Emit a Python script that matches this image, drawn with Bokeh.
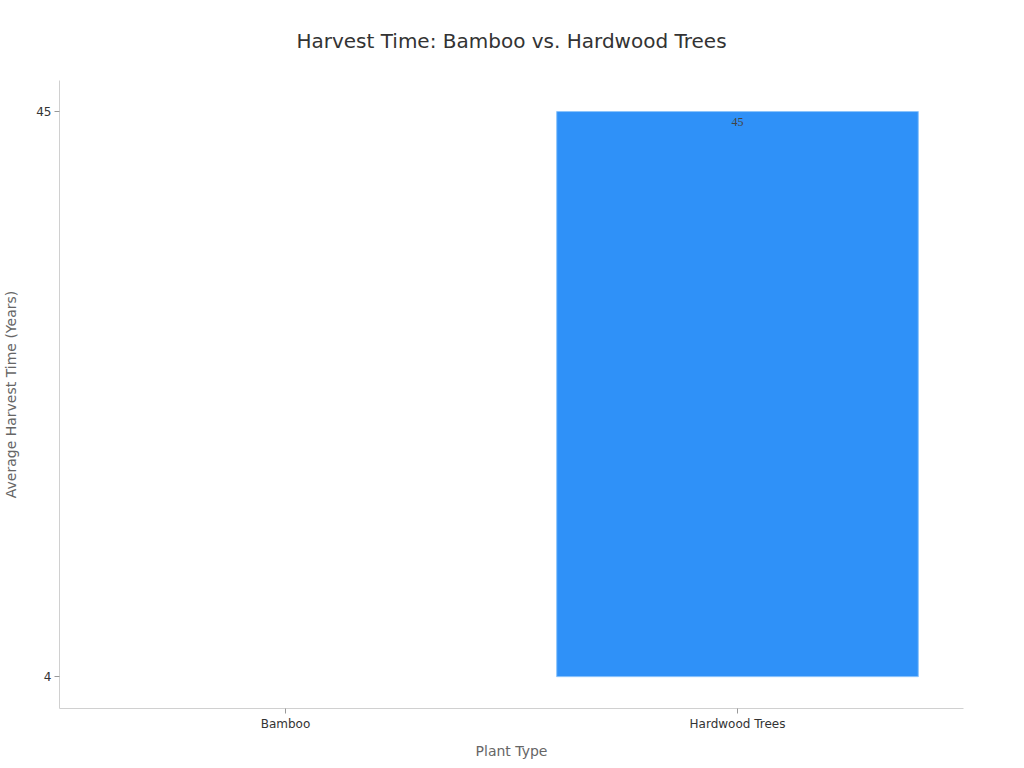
from bokeh.plotting import figure
from bokeh.models import ColumnDataSource, FixedTicker, Range1d, LabelSet, BasicTickFormatter
from bokeh.embed import file_html
from bokeh.resources import INLINE

plantas = ["Bamboo", "Hardwood Trees"]
anios = [4, 45]
etiquetas = ["", "45"]

FUENTE = "DejaVu Sans"

base = min(anios)
src = ColumnDataSource(dict(x=plantas, top=anios, bottom=[base] * len(anios), label=etiquetas,
                            borde=[0.0 if a == base else 1.0 for a in anios]))

p = figure(x_range=plantas, y_range=Range1d(3.49, 51.4), y_axis_type="log",
           width=1008, height=764, output_backend="svg", toolbar_location=None,
           title="Harvest Time: Bamboo vs. Hardwood Trees",
           x_axis_label="Plant Type", y_axis_label="Average Harvest Time (Years)",
           min_border_left=59, min_border_right=45, min_border_top=80, min_border_bottom=56)

p.vbar(x="x", top="top", bottom="bottom", width=0.8, source=src,
       fill_color="#2F91F8", line_color="#8CC4FB", line_alpha="borde", line_width=1)

p.add_layout(LabelSet(x="x", y="top", text="label", source=src, y_offset=-14,
                      text_align="center", text_font=FUENTE, text_font_size="12px",
                      text_color="#444444"))

# titulo
p.title.align = "center"
p.title.vertical_align = "top"
p.title.text_font = FUENTE
p.title.text_font_size = "20px"
p.title.text_font_style = "normal"
p.title.text_color = "#333333"
p.title.standoff = 52

p.yaxis.ticker = FixedTicker(ticks=anios)
p.yaxis.formatter = BasicTickFormatter()

for ax in p.xaxis + p.yaxis:
    ax.axis_line_color = "#D0D0D0"
    ax.major_tick_line_color = "#999999"
    ax.major_tick_out = 5
    ax.major_tick_in = 0
    ax.minor_tick_line_color = None
    ax.major_label_standoff = 3
    ax.major_label_text_font = FUENTE
    ax.major_label_text_font_size = "12px"
    ax.major_label_text_color = "#333333"
    ax.axis_label_text_font = FUENTE
    ax.axis_label_text_font_size = "14px"
    ax.axis_label_text_font_style = "normal"
    ax.axis_label_text_color = "#666666"

p.xaxis.axis_label_standoff = 9
p.yaxis.axis_label_standoff = 14

p.xgrid.grid_line_color = None
p.ygrid.grid_line_color = None
p.outline_line_color = None
p.x_range.range_padding = 0

open("out.html", "w").write(file_html(p, INLINE))
